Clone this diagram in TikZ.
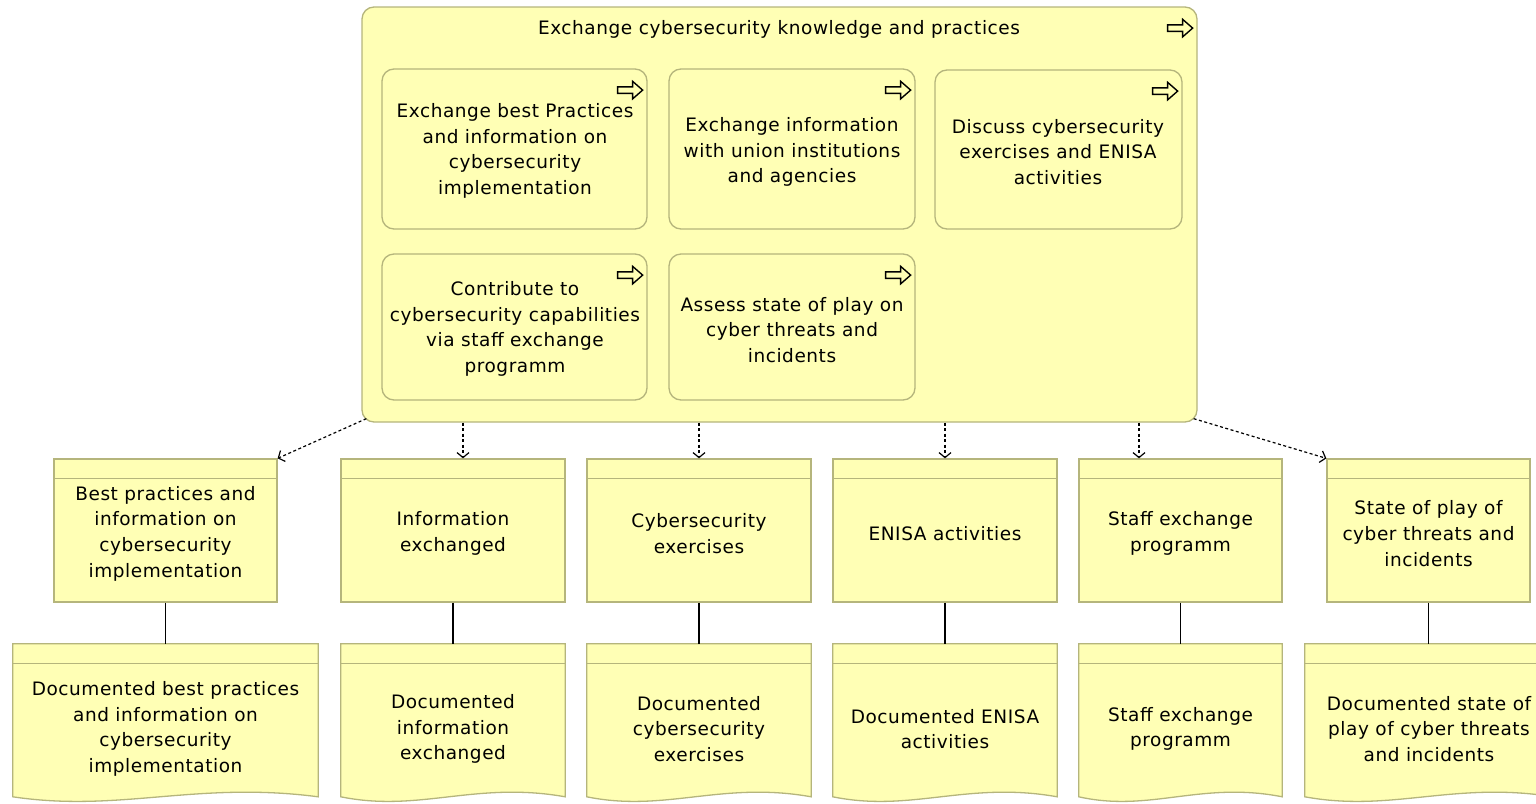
\documentclass[tikz,border=0pt]{standalone}
\usepackage{fontspec}
\setmainfont[LetterSpace=3]{DejaVu Sans}
\usetikzlibrary{arrows.meta,calc}
\definecolor{bfill}{HTML}{FFFFB5}
\definecolor{bline}{HTML}{B5B57C}
\newcommand\procicon[1]{\draw[line width=1.4pt, fill=bfill, line join=miter] #1 ++(0,5.5) -- ++(15,0) -- ++(0,-5.5) -- ++(10,8.75) -- ++(-10,8.75) -- ++(0,-5.5) -- ++(-15,0) -- cycle;}
\newcommand\repshape[1]{%
 \draw[obj] (#1.north west) -- (#1.north east) -- ($(#1.north east)+(0,153)$)
  .. controls ($(#1.north west)!0.6!(#1.north east)+(0,137)$) and ($(#1.north west)!0.35!(#1.north east)+(0,169)$) .. ($(#1.north west)+(0,153)$) -- cycle;
 \draw[obj] ($(#1.north west)+(0,20)$) -- ($(#1.north east)+(0,20)$);}
\begin{document}
\begin{tikzpicture}[x=1pt,y=-1pt,
  every node/.style={font=\fontsize{18.5}{25.7}\selectfont, align=center, inner sep=0pt},
  proc/.style={draw=bline, fill=bfill, rounded corners=12pt, line width=1.3pt},
  obj/.style={draw=bline, fill=bfill, line width=1.3pt},
  rep/.style={draw=none, minimum height=166pt},
  acc/.style={line width=1.2pt, dash pattern=on 3pt off 2.5pt, -{Straight Barb[length=5pt,width=12pt,line width=1.2pt]}},
  conn/.style={line width=1.2pt}]
\useasboundingbox (0,0) rectangle (1536,803);

% main process
\node[proc, minimum width=835pt, minimum height=415pt] (main) at (779.5,214.5) {};
\node (title) at (779,29) {Exchange cybersecurity knowledge and practices};
\procicon{([shift={(-30,13)}]main.north east)}

% sub processes
\node[proc, minimum width=265pt, minimum height=160pt] (p1) at (514.5,149) {};
\node at (515,151) {Exchange best Practices\\and information on\\cybersecurity\\implementation};
\node[proc, minimum width=246pt, minimum height=160pt] (p2) at (792,149) {};
\node at (792,152) {Exchange information\\with union institutions\\and agencies};
\node[proc, minimum width=247pt, minimum height=159pt] (p3) at (1058.5,149.5) {};
\node at (1058,152) {Discuss cybersecurity\\exercises and ENISA\\activities};
\node[proc, minimum width=265pt, minimum height=146pt] (p4) at (514.5,327) {};
\node at (515,329) {Contribute to\\cybersecurity capabilities\\via staff exchange\\programm};
\node[proc, minimum width=246pt, minimum height=146pt] (p5) at (792,327) {};
\node at (792,330) {Assess state of play on\\cyber threats and\\incidents};
\foreach \p in {p1,p2,p3,p4,p5}{\procicon{([shift={(-30,13)}]\p.north east)}}

% business objects
\foreach \n/\cx/\w/\t in {boA/165.5/223/{Best practices and\\information on\\cybersecurity\\implementation},
  boB/453/224/{Information\\exchanged},
  boC/699/224/{Cybersecurity\\exercises},
  boD/945/224/{ENISA activities},
  boE/1180.5/203/{Staff exchange\\programm},
  boF/1428.5/203/{State of play of\\cyber threats and\\incidents}}{
  \node[obj, minimum width=\w pt, minimum height=143pt] (\n) at (\cx,530.5) {};
  \draw[obj] ([yshift=-20pt]\n.north west) -- ([yshift=-20pt]\n.north east);
  \node at (\cx,533.5) {\t};
}

% representations
\foreach \n/\cx/\w/\t in {rA/165.5/305/{Documented best practices\\and information on\\cybersecurity\\implementation},
  rB/453/224/{Documented\\information\\exchanged},
  rC/699/224/{Documented\\cybersecurity\\exercises},
  rD/945/224/{Documented ENISA\\activities},
  rE/1180.5/203/{Staff exchange\\programm},
  rF/1429/248/{Documented state of\\play of cyber threats\\and incidents}}{
  \node[rep, minimum width=\w pt] (\n) at (\cx,727) {};
  \repshape{\n}
  \node at (\cx,729) {\t};
}

% connectors BO -> representation
\foreach \a/\b in {boA/rA,boB/rB,boC/rC,boD/rD,boE/rE,boF/rF}{
  \draw[conn] (\a.south) -- (\a.south |- \b.north);
}

% access relations
\coordinate (sA) at ([shift={(5,-4)}]main.south west);
\coordinate (sF) at ([shift={(-4,-4)}]main.south east);
\coordinate (eB) at ([xshift=10pt]boB.north);
\coordinate (eE) at ([xshift=-41.5pt]boE.north);
\draw[acc] (sA) -- (boA.north east);
\draw[acc] (eB |- main.south) -- (eB);
\draw[acc] (boC.north |- main.south) -- (boC.north);
\draw[acc] (boD.north |- main.south) -- (boD.north);
\draw[acc] (eE |- main.south) -- (eE);
\draw[acc] (sF) -- (boF.north west);
\end{tikzpicture}
\end{document}
